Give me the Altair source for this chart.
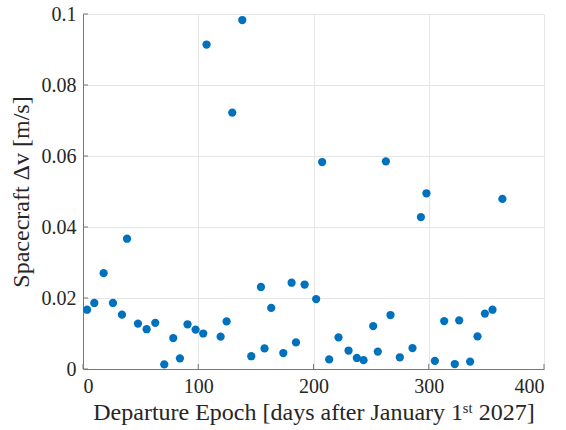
import altair as alt
import pandas as pd

days = [3.5, 9.8, 17.9, 26.0, 33.8, 38.2, 47.7, 55.2, 62.7, 70.5, 78.3, 84.1, 90.7, 97.7,
        104.3, 107.2, 119.4, 124.6, 129.5, 138.2, 146.0, 154.4, 157.5, 163.3, 173.8, 181.0,
        184.8, 192.3, 202.3, 207.5, 213.6, 221.7, 230.4, 237.6, 243.4, 251.8, 255.8, 262.8,
        266.8, 274.9, 285.9, 293.2, 298.0, 305.3, 313.4, 322.6, 326.4, 335.9, 342.3, 348.7,
        355.3, 363.9]
dv = [0.0167, 0.0186, 0.0270, 0.0186, 0.0153, 0.0367, 0.0128, 0.0112, 0.0130, 0.0013,
      0.0087, 0.0030, 0.0126, 0.0111, 0.0100, 0.0914, 0.0091, 0.0134, 0.0722, 0.0983,
      0.0036, 0.0231, 0.0058, 0.0172, 0.0045, 0.0243, 0.0075, 0.0238, 0.0197, 0.0583,
      0.0027, 0.0089, 0.0052, 0.0031, 0.0025, 0.0121, 0.0049, 0.0585, 0.0152, 0.0033,
      0.0059, 0.0428, 0.0495, 0.0023, 0.0135, 0.0014, 0.0137, 0.0021, 0.0092, 0.0156,
      0.0167, 0.0479]

x_ticks = [0, 100, 200, 300, 400]
y_ticks = [0, 0.02, 0.04, 0.06, 0.08, 0.1]

x_title = "Departure Epoch [days after January 1ˢᵗ 2027]"
y_title = "Spacecraft Δv [m/s]"

df = pd.DataFrame({"day": days, "dv": dv})
xt = pd.DataFrame({"day": x_ticks})
yt = pd.DataFrame({"dv": y_ticks})

FONT = "Liberation Serif, Times New Roman, serif"
TEXT_COLOR = "#262626"
LINE_COLOR = "#777777"
H = 355

xscale = alt.Scale(domain=[0, 400], nice=False, zero=False)
yscale = alt.Scale(domain=[0, 0.1], nice=False)
xaxis = alt.Axis(values=x_ticks, title=x_title, format="d", labelFont=FONT, titleFont=FONT)
yaxis = alt.Axis(values=y_ticks, title=y_title, format="~g", labelFont=FONT, titleFont=FONT)

points = alt.Chart(df).mark_circle(size=68, opacity=1, color="#0072BD").encode(
    x=alt.X("day:Q", scale=xscale, axis=xaxis),
    y=alt.Y("dv:Q", scale=yscale, axis=yaxis),
)

xtick_marks = alt.Chart(xt).mark_rule(color=LINE_COLOR, strokeWidth=1).encode(
    x=alt.X("day:Q", scale=xscale, axis=xaxis),
    y=alt.value(H),
    y2=alt.value(H - 5),
)

ytick_marks = alt.Chart(yt).mark_rule(color=LINE_COLOR, strokeWidth=1).encode(
    y=alt.Y("dv:Q", scale=yscale, axis=yaxis),
    x=alt.value(0),
    x2=alt.value(5),
)

chart = alt.layer(points, xtick_marks, ytick_marks).properties(
    width=461, height=H,
    autosize=alt.AutoSizeParams(type="none"),
    padding={"left": 83, "top": 14, "right": 22, "bottom": 61},
).configure(
    font=FONT
).configure_view(
    stroke=None
).configure_axis(
    labelFont=FONT, titleFont=FONT,
    labelFontSize=20, titleFontSize=24,
    labelColor=TEXT_COLOR, titleColor=TEXT_COLOR,
    titleFontWeight="normal",
    domainColor=LINE_COLOR, domainWidth=1,
    ticks=False,
    gridColor="#e6e6e6", gridWidth=1,
).configure_axisX(
    labelPadding=7,
    titlePadding=4,
).configure_axisY(
    labelPadding=7,
    titlePadding=8,
)

chart.save("out.html", embed_options={"renderer": "svg", "actions": False})
